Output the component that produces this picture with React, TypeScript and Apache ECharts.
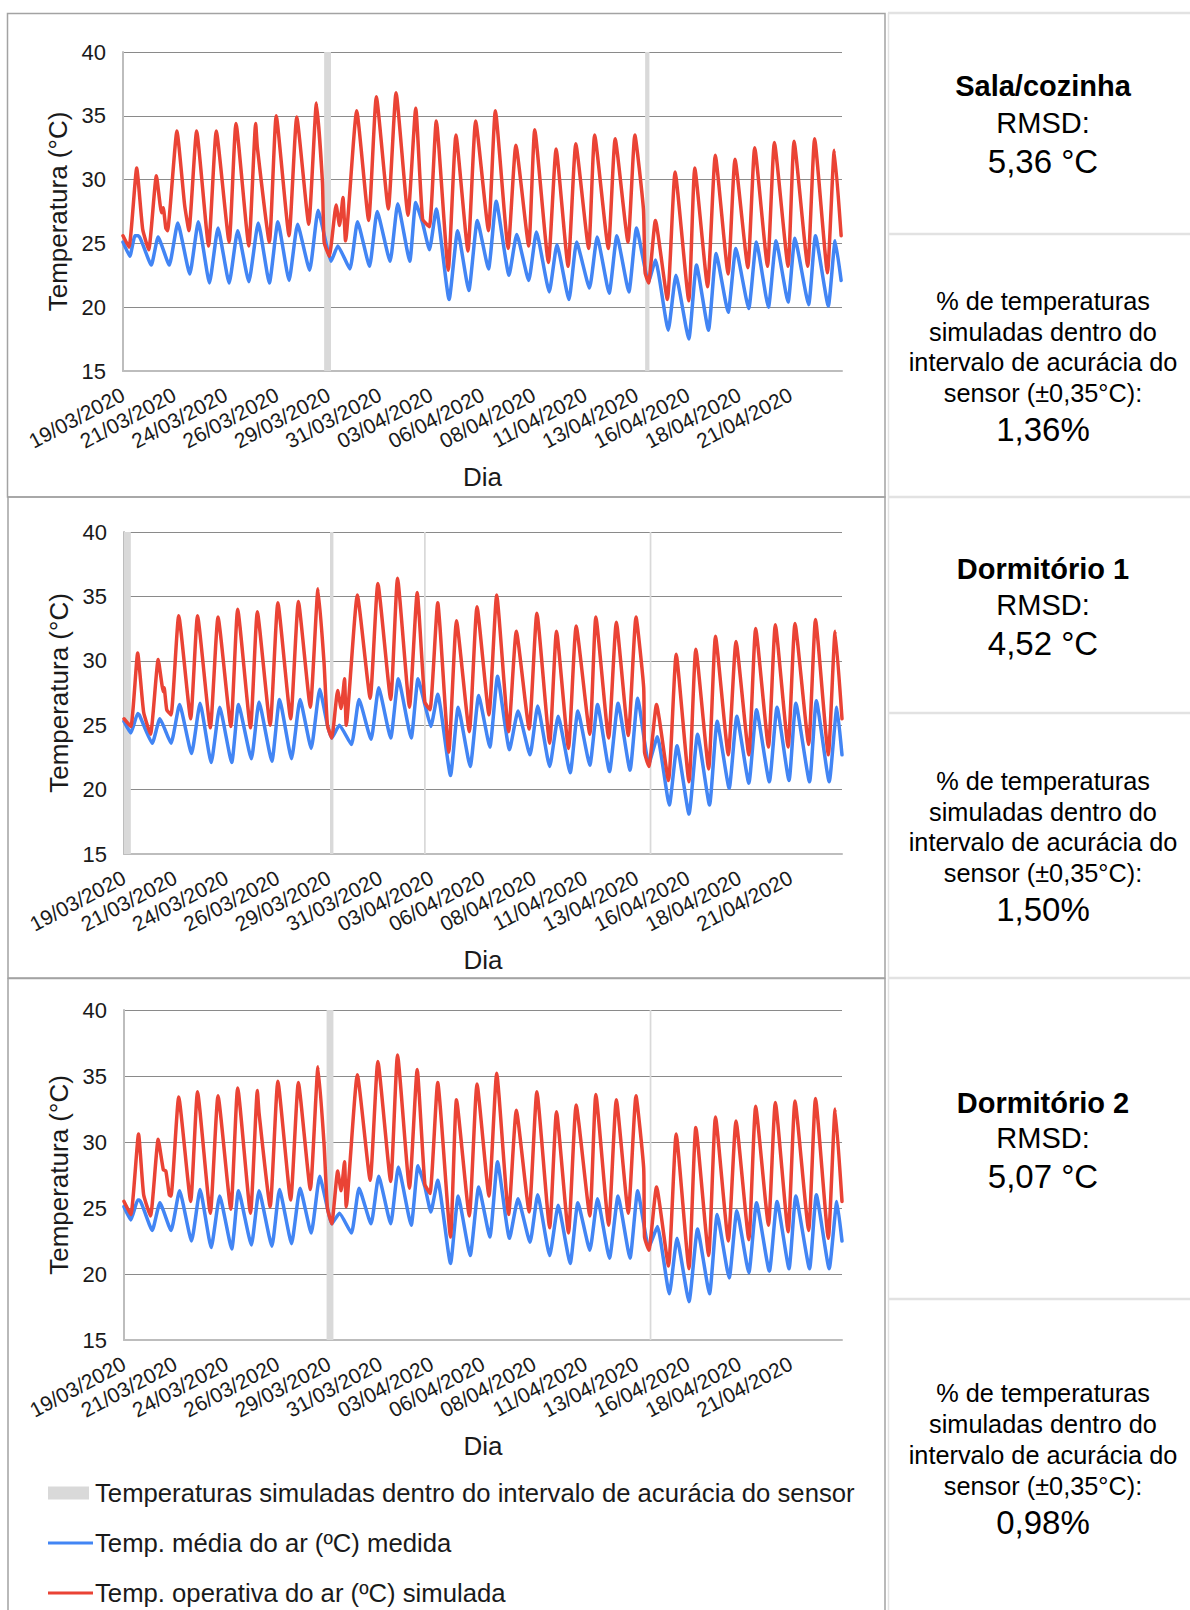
import { useEffect, useRef } from 'react';
import * as echarts from 'echarts';

// Category labels shown under each x axis (one every 60 hourly readings)
const xTickLabels = [
  '19/03/2020', '21/03/2020', '24/03/2020', '26/03/2020', '29/03/2020',
  '31/03/2020', '03/04/2020', '06/04/2020', '08/04/2020', '11/04/2020',
  '13/04/2020', '16/04/2020', '18/04/2020', '21/04/2020',
];
const hoursPerLabel = 60;
const totalHours = 840;
const yMin = 15;
const yMax = 40;
const yStep = 5;

const seriesNames = {
  band: 'Temperaturas simuladas dentro do intervalo de acurácia do sensor',
  measured: 'Temp. média do ar (ºC) medida',
  simulated: 'Temp. operativa do ar (ºC) simulada',
};

// [hour since 19/03 00:00, °C] — daily turning points
const salaSimulated = [
  [0, 25.6], [7, 24.7], [16, 30.9], [23, 26.1], [30, 24.5], [39, 30.3], [45, 27.4], [47, 27.8], [50, 26.2], [52, 26.0],
  [63, 33.8], [72, 28.0], [77, 26.0], [86, 33.8], [100, 24.8], [109, 33.8], [124, 25.1], [132, 34.4], [147, 24.8],
  [155, 34.4], [157, 32.5], [171, 25.1], [179, 35.0], [194, 25.6], [203, 34.9], [217, 26.5], [226, 36.0], [233, 29.8],
  [235, 25.1], [241, 24.0], [249, 28.0], [253, 26.4], [257, 28.6], [260, 25.2], [273, 35.4], [287, 26.8], [296, 36.5],
  [310, 27.7], [319, 36.8], [333, 27.2], [342, 35.6], [350, 26.9], [358, 26.3], [366, 34.6], [380, 22.9], [389, 33.5],
  [403, 24.4], [412, 34.6], [427, 26.0], [435, 35.4], [450, 24.6], [459, 32.7], [474, 24.8], [481, 33.9], [497, 23.5],
  [506, 32.4], [520, 23.2], [529, 32.8], [544, 24.6], [551, 33.5], [567, 24.6], [575, 33.2], [590, 25.1], [598, 33.5],
  [608, 27.7], [610, 22.7], [614, 21.9], [622, 26.8], [636, 20.6], [645, 30.6], [661, 20.5], [668, 30.9], [683, 21.6],
  [692, 31.9], [707, 22.6], [715, 31.6], [730, 23.1], [738, 32.5], [753, 23.2], [761, 32.9], [777, 23.2], [784, 33.0],
  [800, 23.2], [808, 33.2], [823, 22.7], [831, 32.3], [839, 25.6],
];
const salaMeasured = [
  [0, 25.1], [8, 24.0], [14, 25.6], [18, 25.6], [33, 23.3], [41, 25.5], [54, 23.3], [64, 26.6], [78, 22.6], [88, 26.7],
  [101, 21.9], [111, 26.2], [124, 21.9], [134, 26.0], [147, 22.0], [158, 26.6], [171, 21.9], [181, 26.7], [194, 22.1],
  [204, 26.5], [218, 22.9], [228, 27.6], [238, 24.8], [243, 23.6], [251, 24.8], [265, 23.0], [274, 26.7], [288, 23.2],
  [297, 27.5], [312, 23.6], [321, 28.1], [335, 23.6], [342, 28.2], [350, 26.6], [358, 24.5], [366, 27.7], [381, 20.6],
  [391, 26.0], [404, 21.3], [414, 26.8], [427, 23.0], [436, 28.3], [451, 22.5], [460, 25.7], [474, 22.1], [483, 25.9],
  [498, 21.2], [507, 24.9], [521, 20.6], [530, 25.1], [545, 21.5], [554, 25.5], [568, 21.1], [577, 25.6], [591, 21.2],
  [600, 26.2], [614, 22.0], [622, 23.7], [637, 18.2], [646, 22.5], [661, 17.5], [670, 23.3], [684, 18.2], [693, 24.2],
  [707, 19.6], [716, 24.6], [731, 19.9], [740, 25.1], [754, 20.0], [763, 25.2], [777, 20.4], [785, 25.4], [801, 20.2],
  [809, 25.6], [824, 20.1], [832, 25.2], [839, 22.1],
];
// [start hour, end hour] where the simulation falls within ±0,35 °C
const salaBands = [[235, 243], [610, 615]];

const dorm1Simulated = [
  [0, 25.5], [8, 24.9], [16, 30.6], [23, 26.0], [31, 24.3], [40, 30.1], [46, 27.6], [47, 27.9], [50, 26.2], [55, 25.8],
  [64, 33.5], [78, 25.5], [86, 33.5], [101, 24.8], [110, 33.4], [125, 24.9], [133, 34.0], [148, 24.8], [156, 33.8],
  [171, 25.0], [180, 34.5], [195, 25.5], [204, 34.6], [218, 26.4], [227, 35.6], [234, 29.9], [238, 25.0], [243, 24.0],
  [250, 27.7], [254, 26.3], [258, 28.6], [260, 25.0], [273, 35.1], [288, 27.1], [297, 36.0], [312, 27.0], [320, 36.4],
  [334, 26.4], [343, 35.3], [352, 26.8], [358, 26.2], [367, 34.5], [380, 22.9], [389, 33.1], [404, 24.5], [413, 34.2],
  [427, 25.8], [436, 35.1], [450, 24.5], [459, 32.3], [474, 24.7], [483, 33.7], [498, 23.6], [506, 32.3], [520, 23.2],
  [529, 32.7], [545, 24.3], [552, 33.4], [567, 24.0], [576, 33.0], [590, 24.2], [599, 33.4], [608, 27.9], [609, 22.9],
  [614, 21.8], [623, 26.6], [637, 20.7], [646, 30.5], [661, 20.6], [669, 30.9], [684, 21.6], [692, 31.9], [707, 22.7],
  [716, 31.5], [731, 22.7], [739, 32.5], [754, 23.3], [762, 32.8], [777, 23.3], [785, 32.9], [801, 23.5], [809, 33.2],
  [824, 22.7], [832, 32.3], [840, 25.5],
];
const dorm1Measured = [
  [0, 25.3], [8, 24.4], [16, 25.9], [18, 25.8], [33, 23.6], [42, 25.5], [55, 23.6], [65, 26.6], [79, 22.8], [89, 26.7],
  [102, 22.1], [112, 26.4], [126, 22.1], [134, 26.6], [149, 22.4], [158, 26.8], [173, 22.2], [182, 27.0], [196, 22.4],
  [206, 27.0], [219, 23.2], [229, 27.8], [238, 25.0], [243, 24.0], [252, 25.0], [266, 23.5], [275, 27.0], [289, 23.9],
  [298, 27.9], [312, 24.0], [321, 28.6], [336, 24.0], [344, 28.6], [352, 26.6], [359, 24.9], [367, 27.4], [382, 21.1],
  [391, 26.4], [405, 21.8], [415, 27.3], [428, 23.3], [437, 28.8], [451, 23.1], [461, 26.1], [475, 22.7], [484, 26.5],
  [498, 21.8], [508, 25.7], [522, 21.3], [531, 26.1], [545, 21.9], [554, 26.6], [568, 21.4], [578, 26.7], [592, 21.5],
  [601, 27.1], [614, 22.0], [624, 24.1], [638, 18.8], [647, 23.4], [661, 18.1], [671, 24.3], [685, 18.8], [694, 25.3],
  [708, 20.1], [717, 25.7], [731, 20.5], [740, 26.2], [755, 20.6], [764, 26.4], [778, 20.7], [786, 26.7], [802, 20.6],
  [810, 26.9], [825, 20.6], [834, 26.4], [840, 22.7],
];
const dorm1Bands = [[0, 8], [241, 245], [351, 353], [615, 617]];

const dorm2Simulated = [
  [0, 25.5], [8, 24.5], [17, 30.6], [23, 26.0], [31, 24.4], [40, 30.2], [46, 27.9], [49, 27.8], [53, 26.0], [55, 25.9],
  [64, 33.4], [78, 25.5], [86, 33.8], [101, 24.6], [110, 33.5], [125, 24.9], [133, 34.1], [148, 24.6], [156, 33.9],
  [158, 32.2], [171, 25.1], [180, 34.6], [195, 25.6], [204, 34.5], [218, 26.4], [227, 35.7], [234, 29.9], [238, 25.0],
  [243, 23.8], [250, 27.8], [254, 26.3], [258, 28.5], [260, 25.1], [273, 35.1], [288, 27.1], [297, 36.1], [312, 27.0],
  [320, 36.6], [334, 26.5], [343, 35.5], [352, 26.8], [358, 26.1], [367, 34.5], [382, 22.8], [389, 33.2], [404, 24.4],
  [413, 34.4], [427, 25.9], [436, 35.2], [450, 24.5], [459, 32.4], [474, 24.7], [483, 33.8], [498, 23.5], [506, 32.3],
  [520, 23.1], [529, 32.8], [545, 24.4], [552, 33.6], [567, 23.7], [576, 33.2], [590, 24.6], [599, 33.5], [608, 28.0],
  [609, 22.8], [614, 21.8], [623, 26.6], [637, 20.6], [646, 30.6], [661, 20.4], [669, 31.1], [684, 21.4], [692, 31.9],
  [707, 22.5], [716, 31.6], [731, 22.6], [739, 32.7], [754, 23.7], [762, 33.0], [777, 23.2], [785, 33.1], [801, 23.3],
  [809, 33.3], [824, 22.7], [832, 32.5], [840, 25.5],
];
const dorm2Measured = [
  [0, 25.1], [8, 24.1], [16, 25.6], [18, 25.6], [33, 23.3], [42, 25.4], [55, 23.3], [65, 26.3], [79, 22.5], [89, 26.4],
  [102, 22.0], [112, 25.9], [126, 21.9], [134, 26.3], [149, 22.2], [158, 26.3], [173, 22.1], [182, 26.4], [196, 22.3],
  [206, 26.5], [219, 23.1], [229, 27.4], [238, 25.0], [243, 23.8], [252, 24.6], [266, 23.1], [275, 26.5], [289, 23.8],
  [298, 27.4], [312, 23.8], [321, 28.1], [336, 23.7], [344, 28.2], [352, 26.6], [359, 24.7], [367, 27.1], [382, 20.8],
  [391, 25.9], [405, 21.4], [415, 26.6], [428, 22.8], [437, 28.5], [451, 22.7], [461, 25.7], [475, 22.4], [484, 26.0],
  [498, 21.4], [508, 25.2], [522, 20.8], [531, 25.4], [545, 21.8], [554, 25.7], [568, 21.2], [578, 25.9], [592, 21.2],
  [601, 26.3], [614, 22.0], [624, 23.6], [638, 18.5], [647, 22.7], [661, 17.9], [671, 23.4], [685, 18.5], [694, 24.5],
  [708, 19.7], [717, 24.8], [731, 20.1], [740, 25.4], [755, 20.2], [764, 25.5], [778, 20.4], [786, 25.9], [802, 20.4],
  [810, 26.0], [825, 20.4], [834, 25.5], [840, 22.5],
];
const dorm2Bands = [[237, 245], [615, 617]];

const roomNames = ['Sala/cozinha', 'Dormitório 1', 'Dormitório 2'];
const rmsdValues = ['5,36 °C', '4,52 °C', '5,07 °C'];
const withinAccuracy = ['1,36%', '1,50%', '0,98%'];
const accuracyCaption = [
  '% de temperaturas',
  'simuladas dentro do',
  'intervalo de acurácia do',
  'sensor (±0,35°C):',
];

const roomSeries = [
  { simulated: salaSimulated, measured: salaMeasured, bands: salaBands },
  { simulated: dorm1Simulated, measured: dorm1Measured, bands: dorm1Bands },
  { simulated: dorm2Simulated, measured: dorm2Measured, bands: dorm2Bands },
];

// ---- layout (pixels) ----
const W = 1190;
const H = 1610;
const FONT = '"Liberation Sans", Arial, Helvetica, sans-serif';
const BLUE = '#4285f4';
const RED = '#ea4335';
const BAND = '#d9d9d9';
const TEXT = '#1a1a1a';

const grids = [
  { left: 123, top: 52, width: 719, height: 319 },
  { left: 124, top: 532, width: 718, height: 322 },
  { left: 124, top: 1010, width: 718, height: 330 },
];
// text rows of the side table, per panel: title, RMSD label, RMSD value, 4 caption lines, percentage
const sideRows = [
  [86, 123, 161, 301, 332, 362, 393, 429],
  [569, 605, 643, 781, 812, 842, 873, 909],
  [1103, 1138, 1176, 1393, 1424, 1455, 1486, 1522],
];
const sideCenterX = 1043;

function buildOption() {
  const grid = grids.map((g) => ({ ...g, containLabel: false }));

  const xAxis = grids.map((_, i) => ({
    type: 'value',
    gridIndex: i,
    min: 0,
    max: totalHours,
    interval: hoursPerLabel,
    name: 'Dia',
    nameLocation: 'middle',
    nameGap: 93,
    nameTextStyle: { fontSize: 26, color: TEXT, fontFamily: FONT },
    axisLine: { show: true, lineStyle: { color: '#bdbdbd', width: 2 } },
    axisTick: { show: false },
    splitLine: { show: false },
    axisLabel: {
      rotate: 28,
      fontSize: 21,
      color: TEXT,
      fontFamily: FONT,
      margin: 22,
      showMaxLabel: true,
      formatter: (v: number) => xTickLabels[Math.round(v / hoursPerLabel)] ?? '',
    },
  }));

  const yAxis = grids.map((_, i) => ({
    type: 'value',
    gridIndex: i,
    min: yMin,
    max: yMax,
    interval: yStep,
    name: 'Temperatura (°C)',
    nameLocation: 'middle',
    nameRotate: 90,
    nameGap: 49,
    nameTextStyle: { fontSize: 26, color: TEXT, fontFamily: FONT },
    axisLine: { show: true, lineStyle: { color: '#bdbdbd', width: 2 } },
    axisTick: { show: false },
    splitLine: { show: true, lineStyle: { color: '#8a8a8a', width: 1 } },
    axisLabel: { fontSize: 22, color: TEXT, fontFamily: FONT, margin: 17 },
  }));

  const series: any[] = [];
  roomSeries.forEach((room, i) => {
    series.push({
      type: 'custom',
      name: seriesNames.band,
      xAxisIndex: i,
      yAxisIndex: i,
      encode: { x: [0, 1] },
      data: room.bands,
      z: 2,
      renderItem: (_params: any, api: any) => {
        const a = api.coord([api.value(0), yMax]);
        const b = api.coord([api.value(1), yMin]);
        return {
          type: 'rect',
          shape: { x: a[0], y: a[1], width: Math.max(b[0] - a[0], 1.6), height: b[1] - a[1] },
          style: { fill: BAND },
        };
      },
    });
    series.push({
      type: 'line',
      name: seriesNames.measured,
      xAxisIndex: i,
      yAxisIndex: i,
      data: room.measured,
      showSymbol: false,
      symbol: 'none',
      smooth: 0.15,
      z: 3,
      lineStyle: { color: BLUE, width: 3.5, cap: 'round', join: 'round' },
      itemStyle: { color: BLUE },
    });
    series.push({
      type: 'line',
      name: seriesNames.simulated,
      xAxisIndex: i,
      yAxisIndex: i,
      data: room.simulated,
      showSymbol: false,
      symbol: 'none',
      smooth: 0.15,
      z: 4,
      lineStyle: { color: RED, width: 3.5, cap: 'round', join: 'round' },
      itemStyle: { color: RED },
    });
  });

  const graphic: any[] = [];
  // panel frames
  const frames = [
    { x: 7.5, y: 13.5, w: 877.5, h: 483.5 },
    { x: 8, y: 497, w: 877, h: 481 },
    { x: 8, y: 978.5, w: 877, h: 660 },
  ];
  frames.forEach((f) => {
    graphic.push({
      type: 'rect',
      shape: { x: f.x, y: f.y, width: f.w, height: f.h },
      style: { fill: 'none', stroke: '#a3a3a3', lineWidth: 1.5 },
      silent: true,
    });
  });
  // side table rules
  [13, 234, 497, 713, 978, 1299].forEach((y) => {
    graphic.push({
      type: 'line',
      shape: { x1: 888, y1: y, x2: W, y2: y },
      style: { stroke: '#e2e2e2', lineWidth: 2.5 },
      silent: true,
    });
  });
  graphic.push({
    type: 'line',
    shape: { x1: 888.5, y1: 13, x2: 888.5, y2: H },
    style: { stroke: '#e2e2e2', lineWidth: 1.5 },
    silent: true,
  });

  // side table texts
  sideRows.forEach((rows, i) => {
    const lines: { text: string; size: number; bold?: boolean }[] = [
      { text: roomNames[i], size: 29, bold: true },
      { text: 'RMSD:', size: 29 },
      { text: rmsdValues[i], size: 33 },
      ...accuracyCaption.map((t) => ({ text: t, size: 25.3 })),
      { text: withinAccuracy[i], size: 33 },
    ];
    lines.forEach((ln, k) => {
      graphic.push({
        type: 'text',
        x: sideCenterX,
        y: rows[k],
        silent: true,
        style: {
          text: ln.text,
          fill: '#000',
          font: `${ln.bold ? 'bold ' : ''}${ln.size}px ${FONT}`,
          textAlign: 'center',
          textVerticalAlign: 'middle',
        },
      });
    });
  });

  // legend under the last panel
  const legendX = 48;
  const legendTextX = 95;
  const legendRows = [1493, 1543, 1593];
  graphic.push({
    type: 'rect',
    shape: { x: legendX, y: legendRows[0] - 6.5, width: 41, height: 13 },
    style: { fill: BAND },
    silent: true,
  });
  graphic.push({
    type: 'line',
    shape: { x1: legendX, y1: legendRows[1], x2: legendX + 45, y2: legendRows[1] },
    style: { stroke: BLUE, lineWidth: 3 },
    silent: true,
  });
  graphic.push({
    type: 'line',
    shape: { x1: legendX, y1: legendRows[2], x2: legendX + 45, y2: legendRows[2] },
    style: { stroke: RED, lineWidth: 3 },
    silent: true,
  });
  [seriesNames.band, seriesNames.measured, seriesNames.simulated].forEach((t, k) => {
    graphic.push({
      type: 'text',
      x: legendTextX,
      y: legendRows[k],
      silent: true,
      style: {
        text: t,
        fill: TEXT,
        font: `25.7px ${FONT}`,
        textAlign: 'left',
        textVerticalAlign: 'middle',
      },
    });
  });

  return {
    animation: false,
    backgroundColor: '#ffffff',
    textStyle: { fontFamily: FONT },
    grid,
    xAxis,
    yAxis,
    series,
    graphic,
  };
}

export default function App() {
  const ref = useRef<HTMLDivElement>(null);

  useEffect(() => {
    document.body.style.margin = '0';
    if (!ref.current) return;
    const chart = echarts.init(ref.current, undefined, { renderer: 'svg' });
    chart.setOption(buildOption() as any);
    return () => chart.dispose();
  }, []);

  return (
    <div
      ref={ref}
      style={{ position: 'absolute', left: 0, top: 0, width: W, height: H, background: '#fff' }}
    />
  );
}
